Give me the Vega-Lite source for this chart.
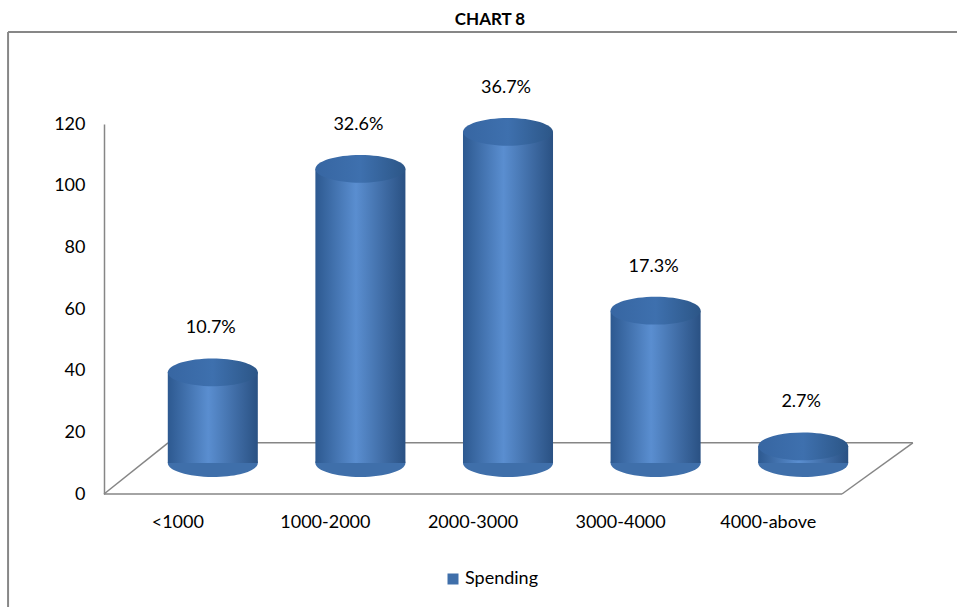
{
  "$schema": "https://vega.github.io/schema/vega-lite/v6.json",
  "width": 738,
  "height": 370,
  "autosize": "none",
  "padding": {"left": 104, "top": 124, "right": 115, "bottom": 113},
  "background": "white",
  "title": {"text": "CHART 8", "font": "Lato", "fontSize": 17, "fontWeight": "bold", "color": "#000000", "offset": 2, "anchor": "middle", "dx": 17},
  "config": {
    "view": {"stroke": null},
    "axis": {"grid": false, "labelFont": "Lato", "labelFontSize": 18, "labelColor": "#000000", "domainColor": "#868686", "domainWidth": 1.5, "ticks": false, "title": null}
  },
  "data": {"values": [
    {"cat": "<1000", "value": 32, "pct": "10.7%"},
    {"cat": "1000-2000", "value": 98, "pct": "32.6%"},
    {"cat": "2000-3000", "value": 110, "pct": "36.7%"},
    {"cat": "3000-4000", "value": 52, "pct": "17.3%"},
    {"cat": "4000-above", "value": 8, "pct": "2.7%"}
  ]},
  "resolve": {"scale": {"x": "independent"}},
  "layer": [
    {
      "data": {"values": [{}]},
      "layer": [
        {"mark": {"type": "rule", "color": "#868686", "strokeWidth": 1.5},
         "encoding": {"x": {"datum": 0, "type": "quantitative", "scale": {"domain": [0, 5], "nice": false, "zero": false}, "axis": null}, "x2": {"datum": 5},
                      "y": {"datum": 0, "type": "quantitative", "scale": {"domain": [0, 120], "nice": false}}, "y2": {"datum": 0}}},
        {"mark": {"type": "rule", "color": "#868686", "strokeWidth": 1.5},
         "encoding": {"x": {"datum": 0.434, "type": "quantitative", "scale": {"domain": [0, 5], "nice": false, "zero": false}, "axis": null}, "x2": {"datum": 5.48},
                      "y": {"datum": 16.6, "type": "quantitative"}, "y2": {"datum": 16.6}}},
        {"mark": {"type": "rule", "color": "#868686", "strokeWidth": 1.5},
         "encoding": {"x": {"datum": 0, "type": "quantitative", "scale": {"domain": [0, 5], "nice": false, "zero": false}, "axis": null}, "x2": {"datum": 0.434},
                      "y": {"datum": 0, "type": "quantitative"}, "y2": {"datum": 16.6}}},
        {"mark": {"type": "rule", "color": "#868686", "strokeWidth": 1.5},
         "encoding": {"x": {"datum": 5, "type": "quantitative", "scale": {"domain": [0, 5], "nice": false, "zero": false}, "axis": null}, "x2": {"datum": 5.48},
                      "y": {"datum": 0, "type": "quantitative"}, "y2": {"datum": 16.6}}},
        {"mark": {"type": "rule", "color": "#878787", "strokeWidth": 2},
         "encoding": {"x": {"datum": -0.65, "type": "quantitative", "scale": {"domain": [0, 5], "nice": false, "zero": false}, "axis": null},
                      "y": {"datum": -45, "type": "quantitative"}, "y2": {"datum": 149.8}}},
        {"mark": {"type": "rule", "color": "#878787", "strokeWidth": 2},
         "encoding": {"x": {"datum": -0.65, "type": "quantitative", "scale": {"domain": [0, 5], "nice": false, "zero": false}, "axis": null}, "x2": {"datum": 6.5},
                      "y": {"datum": 149.8, "type": "quantitative"}, "y2": {"datum": 149.8}}}
      ]
    },
    {
      "encoding": {
        "x": {"field": "cat", "type": "nominal", "sort": null, "scale": {"paddingInner": 0, "paddingOuter": 0},
              "axis": {"labelAngle": 0, "domain": false, "labelPadding": 19, "labelFontSize": 18}}
      },
      "layer": [
        {"mark": {"type": "point", "shape": "M-1,0 A1,0.31 0 1,0 1,0 A1,0.31 0 1,0 -1,0 Z", "size": 8100, "filled": true, "opacity": 1, "xOffset": 35, "yOffset": -31},
         "encoding": {
           "y": {"datum": 0, "type": "quantitative", "scale": {"domain": [0, 120], "nice": false},
                 "axis": {"values": [0, 20, 40, 60, 80, 100, 120], "labelPadding": 19, "labelFontSize": 18}},
           "color": {"datum": "Spending", "type": "nominal", "scale": {"range": ["#3F6FAA"]},
                     "legend": {"orient": "none", "legendX": 340, "legendY": 446, "symbolType": "square", "symbolSize": 121, "symbolStrokeWidth": 0, "symbolFillColor": "#4F81BD", "labelFont": "Lato", "labelFontSize": 18, "labelColor": "#000000", "labelOffset": 3, "title": null, "padding": 0}}
         }},
        {"mark": {"type": "bar", "width": {"band": 0.61}, "xOffset": 35, "x2Offset": 35, "yOffset": -23, "y2Offset": -31,
                  "color": {"gradient": "linear", "x1": 0, "x2": 1, "y1": 0, "y2": 0,
                            "stops": [{"offset": 0, "color": "#2D5990"}, {"offset": 0.45, "color": "#5A8ED0"}, {"offset": 1, "color": "#2A5183"}]}},
         "encoding": {"y": {"field": "value", "type": "quantitative"}, "y2": {"datum": 0}}},
        {"mark": {"type": "point", "shape": "M-1,0 A1,0.31 0 1,0 1,0 A1,0.31 0 1,0 -1,0 Z", "size": 8100, "filled": true, "opacity": 1, "xOffset": 35, "yOffset": -23,
                  "fill": {"gradient": "linear", "x1": 0, "x2": 1, "y1": 0, "y2": 0,
                           "stops": [{"offset": 0, "color": "#3766A2"}, {"offset": 0.5, "color": "#3E70AE"}, {"offset": 1, "color": "#2C5687"}]}},
         "encoding": {"y": {"field": "value", "type": "quantitative"}}},
        {"mark": {"type": "text", "font": "Lato", "fontSize": 18, "color": "#000000", "xOffset": 33, "yOffset": -23, "dy": -44},
         "encoding": {"y": {"field": "value", "type": "quantitative"}, "text": {"field": "pct"}}}
      ]
    }
  ]
}
